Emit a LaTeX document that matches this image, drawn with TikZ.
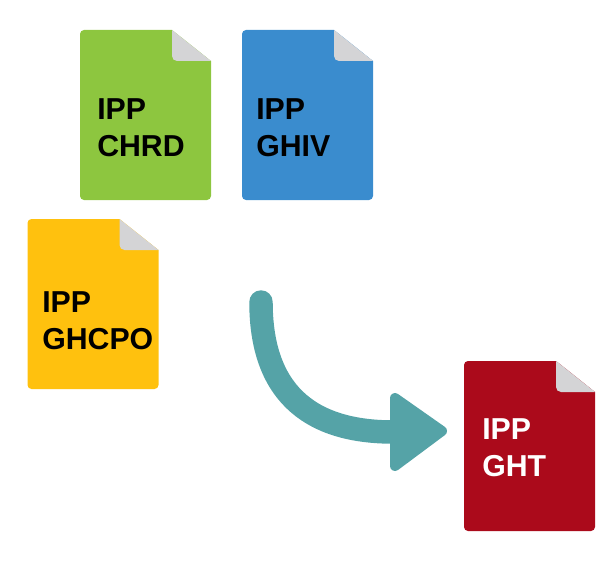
\documentclass[tikz,border=0pt]{standalone}
\usepackage{fontspec}
\setmainfont{Liberation Sans}
\definecolor{docgreen}{HTML}{8DC63F}
\definecolor{docblue}{HTML}{3A8CCE}
\definecolor{docyellow}{HTML}{FFC10E}
\definecolor{docred}{HTML}{AB0A1B}
\definecolor{foldgrey}{HTML}{D4D4D6}
\definecolor{arrowteal}{HTML}{55A3A7}
\tikzset{
  doclabel/.style={anchor=north west,inner sep=0pt,align=left,font=\fontsize{22.7pt}{27.75pt}\selectfont\bfseries},
  arrowshaft/.style={draw=arrowteal,line width=17.6pt,line cap=round},
  arrowhead/.style={fill=arrowteal,draw=arrowteal,line width=7.5pt,line join=round}
}
\newcommand{\docsheet}[3]{% x, y, colour (top-left corner; page 131 x 170 px)
  \begin{scope}[shift={(#1,#2)}]
    \fill[#3] (0,4) .. controls (0,1.8) and (1.8,0) .. (4,0) -- (92,0) -- (131,31) -- (131,166)
      .. controls (131,168.2) and (129.2,170) .. (127,170) -- (4,170)
      .. controls (1.8,170) and (0,168.2) .. (0,166) -- cycle;
    \fill[foldgrey] (92,0) -- (131,31) -- (97,31) .. controls (94.2,31) and (92,28.8) .. (92,26) -- cycle;
  \end{scope}}
\begin{document}
\begin{tikzpicture}[x=0.75pt,y=-0.75pt]
\useasboundingbox (0,0) rectangle (613,563);
\docsheet{80}{30}{docgreen}
\docsheet{242}{30}{docblue}
\docsheet{27.5}{219}{docyellow}
\docsheet{464}{361}{docred}
\node[doclabel,text=black] (chrd) at (97,98.5) {IPP\\CHRD};
\node[doclabel,text=black] (ghiv) at (256,98.5) {IPP\\GHIV};
\node[doclabel,text=black] (ghcpo) at (42,291.5) {IPP\\GHCPO};
\node[doclabel,text=white] (ght) at (482,418.5) {IPP\\GHT};
\coordinate (arrowstart) at (261,302);
\coordinate (arrowend) at (393,432);
\draw[arrowshaft] (arrowstart) .. controls (261,389) and (306,432) .. (arrowend);
\filldraw[arrowhead] (395,398) -- (442,431) -- (395,466) -- cycle;
\end{tikzpicture}
\end{document}
